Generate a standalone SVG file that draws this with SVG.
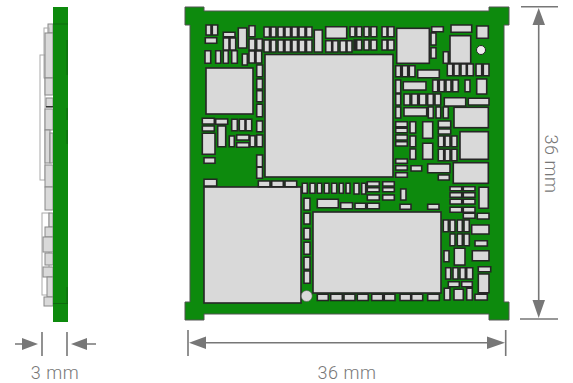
<svg xmlns="http://www.w3.org/2000/svg" width="573" height="383" viewBox="0 0 573 383">
<style>
.c{fill:#d9d9d9;stroke:#262626;stroke-width:1.6}
.s{fill:#d9d9d9;stroke:#888;stroke-width:1}
.o{fill:none;stroke:#aaa;stroke-width:1}
.d{stroke:#777;stroke-width:1.6;fill:none}
.a{fill:#777}
text{font-family:Roboto,"Liberation Sans",sans-serif;font-weight:300;font-size:18px;letter-spacing:.5px;fill:#777}
</style>
<defs>
<filter id="b" x="-2%" y="-2%" width="104%" height="104%"><feGaussianBlur stdDeviation="0.45"/></filter>
</defs>
<rect width="573" height="383" fill="#fff"/>
<g id="side-view" filter="url(#b)">
<rect class="s" x="48" y="24" width="5" height="9"/>
<rect class="o" x="44" y="28" width="5" height="50"/>
<rect class="o" x="40" y="55" width="5" height="125"/>
<rect class="s" x="45" y="33" width="8" height="45"/>
<rect class="s" x="45" y="78" width="8" height="17"/>
<rect class="s" x="46" y="98" width="7" height="9"/>
<rect x="46" y="106" width="7" height="1.4" fill="#333"/>
<rect class="s" x="45" y="109" width="8" height="21"/>
<rect class="s" x="45" y="130" width="5" height="33"/>
<rect class="s" x="50" y="133" width="3" height="30"/>
<rect class="s" x="45" y="165" width="8" height="22"/>
<rect class="s" x="45" y="187" width="8" height="23"/>
<rect class="o" x="42" y="213" width="7" height="82"/>
<rect class="s" x="49" y="213" width="4" height="14"/>
<rect class="s" x="45" y="227" width="8" height="10"/>
<rect class="s" x="43" y="237" width="10" height="15"/>
<rect class="s" x="45" y="253" width="8" height="12"/>
<rect class="s" x="43" y="267" width="10" height="10"/>
<rect class="s" x="47" y="277" width="6" height="20"/>
<rect class="s" x="44" y="297" width="9" height="9"/>
<rect x="53" y="7" width="15" height="315" fill="#0b8a0b"/>
<rect x="53" y="23.5" width="15" height="1" fill="#0a6b0a"/>
<rect x="53" y="303" width="15" height="1" fill="#0a6b0a"/>
<rect x="66.5" y="40" width="1.2" height="35" fill="#0a6b0a"/>
<rect x="66.5" y="108" width="1.2" height="12" fill="#0a6b0a"/>
<rect x="66.5" y="130" width="1.2" height="14" fill="#0a6b0a"/>
<rect x="66.5" y="287" width="1.2" height="16" fill="#0a6b0a"/>
</g>
<g id="board" filter="url(#b)">
<path d="M185 7H204V11H489V7H509V25H504V302H509V320H489V314H204V320H185V302H190V25H185Z" fill="#0b8a0b" stroke="#555" stroke-width="1"/>
<g id="chips">
<rect class="c" x="265" y="54.5" width="128" height="122.5"/>
<rect class="c" x="206" y="68" width="47" height="46"/>
<rect class="c" x="204" y="187" width="97" height="116"/>
<rect class="c" x="313" y="212" width="128" height="81"/>
<rect class="c" x="396.700" y="28.300" width="32.600" height="35"/>
<rect class="c" x="454" y="107.300" width="34.300" height="20.400"/>
<rect class="c" x="460" y="131.700" width="28.300" height="27.600"/>
<rect class="c" x="453.300" y="162.700" width="35" height="20.600"/>
<rect class="c" x="450" y="35.700" width="20.700" height="27.600"/>
</g>
<g id="parts">
<path class="c" d="M206 25h5v10h-5zM212.300 25h5.400v10h-5.400zM205.300 37.700h11.400v5.600h-11.400zM223.300 32.300h11.700v4.400h-11.700zM223.300 38h5.700v12h-5.700zM230 38h5.700v12H230zM238.300 28h8.400v20h-8.400zM249 25.700h6v11h-6zM249 39h6v11h-6zM256.700 39h5.600v11h-5.600z"/>
<path class="c" d="M264 27h5.500v10H264zM271 27h5v10h-5zM278 27h5.500v10H278zM285 27h5.500v10H285zM292 27h5.500v10H292zM299 27h6v10h-6zM306.500 27h5.500v10h-5.500zM264 40h5.500v12H264zM271 40h5v12h-5zM278 40h5.500v12H278zM285 40h5.500v12H285zM292 40h5.500v12H292zM299 40h6v12h-6zM306.500 40h5.500v12h-5.500z"/>
<path class="c" d="M314.300 30h8v22h-8zM325.700 26.700h21v11.600h-21zM325.700 40.700h6v11.300h-6zM332.700 40.700h5.300v11.300h-5.300zM340 40.700h6v11.300h-6zM347 40.700h5v11.300h-5z"/>
<path class="c" d="M350 26.700h5v10h-5zM356.700 26.700h5v10h-5zM364 26.700h5v10h-5zM371 26.700h5.700v10H371zM382 26.700h5v10h-5zM388 26.700h6v10h-6zM354 40h1.500v10H354zM356.700 40h5v10h-5zM364 40h5v10h-5zM371 40h5.700v10H371zM382 40h5v10h-5zM388 40h6v10h-6z"/>
<path class="c" d="M431.700 26.700h11.600v5h-11.600zM431 33h5v12h-5zM431 47.700h5v10.600h-5zM443.300 51.700h5v11.600h-5zM451 25h20.700v7.300H451zM476.700 26h11.600v12.300h-11.600z"/>
<path class="c" d="M395.700 65.700h5v11h-5zM402.300 65.700h5.400v11h-5.400zM409.300 65.700h5.700v11h-5.700zM417.700 70h21.600v7.700h-21.600zM447.300 64h5.400v11.700h-5.400zM454 64h5.300v11.700H454zM461 64h5.300v11.700H461zM467.300 64h6v11.700h-6zM476 64h5.700v11.700H476zM483.300 64h5.700v11.700h-5.700z"/>
<path class="c" d="M395.700 80h5v13h-5zM403.300 81.700H426V90h-22.700zM432.700 80h5v11.700h-5zM439.300 80h5v11.700h-5zM446 80h5v11.700h-5zM452.700 80h5.600v11.700h-5.600zM465 80h5v11.700h-5zM476.700 79h10v15h-10z"/>
<path class="c" d="M395.700 94h5v11h-5zM404 94h6v11h-6zM411.700 94h6v11h-6zM419.300 94h6.700v11h-6.700zM427.700 94h5.600v11h-5.600zM435 94h5.700v11H435zM444.300 97.700h21.400v8.300h-21.400zM468.300 98.300H489v6.700h-20.700z"/>
<path class="c" d="M395.700 107h5v11h-5zM404 107.700h22.700v8.300H404zM428.300 107h5v11h-5zM436 107h4.700v11H436zM443.300 107h5v11h-5z"/>
<path class="c" d="M395.700 121.700h11.600v5h-11.600zM395.700 128.300h11.600v4.400h-11.600zM395.700 135h11.600v5h-11.600zM395.700 141.700h11.600v4.300h-11.600zM410 121.700h5.700V133H410zM410 136h5.700v10.700H410zM410 149h5.700v10.300H410zM422.700 121.700h10v16.600h-10zM422.700 143.300h10v16h-10zM438.300 121h12.400v6.300h-12.400zM438.300 129h12.400v5h-12.400zM438.300 136h5.400v10.700h-5.400zM445 136h5v10.700h-5zM451.700 136h5.300v10.700h-5.300zM438.300 149.300h5.400v11.400h-5.400zM445 149.300h5v11.400h-5zM451.700 149.300h5.300v11.400h-5.300z"/>
<path class="c" d="M395.700 159h11.600v4.300h-11.600zM395.700 165.700h11.600v4.300h-11.600zM395.700 172.700h11.600v4.600h-11.600zM411 165.700h10.700v5.300H411zM427.700 164H450v8.700h-22.300zM438.300 175h11v5h-11zM400.700 189h5.300v11h-5.300zM400 204.300h11v5h-11zM427.700 204.300H439v5h-11.300z"/>
<path class="c" d="M450 186.700h11.700v4H450zM450 192.700h11.700v4.600H450zM450 199.300h11.700v4.700H450zM450 207.300h11.700v5H450zM463.300 186.700H475v4h-11.700zM463.300 192.700H475v4.600h-11.700zM463.300 199.300H475v4.700h-11.700zM463.300 207.300H475v5h-11.700zM479 187.300h9.300v21H479zM463.300 213.300H475v5h-11.700zM477.300 213.300H489v5.700h-11.700z"/>
<path class="c" d="M443.300 220h5v11.700h-5zM450 220h5v11.700h-5zM457.300 220h5v11.700h-5zM464 220h5.300v11.700H464zM471.700 225H489v9h-17.300zM450 234h5v11.700h-5zM457.300 234h5v11.700h-5zM464 234h5.300v11.700H464zM475 240.700h12.300v5.300H475zM444 250.700h5v11h-5zM454.300 248.300H465V265h-10.700zM472.300 250.700H489v10h-16.700z"/>
<path class="c" d="M478.300 266.700h12.400v5h-12.400zM445.700 267.700h5V279h-5zM453 267.700h5V279h-5zM460 267.700h5.300V279H460zM466.700 267.700h6V279h-6zM448.300 281.700h11v5h-11zM461.700 281.700h10.600v5h-10.600zM478.300 274H489v18.700h-10.700zM444.300 288.300h5.700V300h-5.700zM454 289.300h9.300V300H454zM466.700 288.300h5.600V300h-5.600zM475 294.300h12.300v5.700H475z"/>
<path class="c" d="M317.300 294.300h11v6.200h-11zM330.700 294.300h11.600v6.200h-11.600zM344 294.300h11v6.200h-11zM357.300 294.300h11v6.200h-11zM371.700 294.300h11v6.200h-11zM384.300 294.300H395v6.200h-10.700zM400 294.300h10.700v6.200H400zM411.700 294.300h11v6.200h-11zM427.700 294.300h11.600v6.200h-11.600z"/>
<path class="c" d="M302.300 183.300h5v10h-5zM310 183.300h5v10h-5zM317.300 183.300h4.400v10h-4.400zM324.300 183.300h4.700v10h-4.700zM331.700 183.300h5v10h-5zM339.300 183.300h4v10h-4zM346 183.300h4v10h-4zM354 183.300h5v10.700h-5zM361.700 183.300h4v10.700h-4zM367.300 181.700h12v4.300h-12zM367.300 187.700h12v4h-12zM382.700 181.700h11.600v4.300h-11.600zM382.700 187.700h11.600v4h-11.600zM367.300 195h12v5h-12zM382.700 195h11.600v5h-11.600zM355 203.300h10.700v5.400H355zM367.300 203.300h12v5.400h-12zM317.300 199.300h21v8.400h-21zM340.700 202.700h11.800v6h-11.800z"/>
<path class="c" d="M304 198.300h6V210h-6zM304 213.300h6V224h-6zM304 228.300h6v11h-6zM304 242.300h6v12h-6zM304 257.300h6v12h-6zM304 271h6v12.300h-6zM258.300 181h11.700v5.700h-11.700zM271.700 181h11.600v5.700h-11.600zM285 181h11.700v5.700H285zM204 179.300h12.700v6.700H204zM204 157.700h11v5.600h-11z"/>
<path class="c" d="M256.700 65h5.800v11.700h-5.800zM256.700 79h5.800v10h-5.800zM256.700 90.700h5.800v11h-5.800zM256.700 104.300h5.800v12.400h-5.800zM256.700 121h5.800v10.700h-5.800zM256.700 135h5.800v11.700h-5.800zM256.700 155h5.800v11.700h-5.800zM256.700 167.300h5.800v11h-5.800z"/>
<path class="c" d="M205 50.700h5.700v12.600H205zM215.700 50.700h5v12.600h-5zM223.300 50.700h5v12.600h-5zM231.700 50.700h5.600v12.600h-5.600zM242.300 54h5v11h-5zM249 51h5.700v12H249zM256 51h5.700v12H256z"/>
<path class="c" d="M202.300 118.300h12v5.700h-12zM202.300 126h12v5h-12zM215.700 119h12v5.300h-12zM231.700 119.300h5.600v11.400h-5.600zM239.300 119.300h5.700v11.400h-5.700zM246 119.300h5.700v11.400H246zM202.300 133.300H215v21h-12.700zM217.700 126h8v20.700h-8zM229.300 136h5v10.700h-5zM236.700 135H249v5h-12.300zM236.700 142.700H249v4.600h-12.300zM250 135.700h5v11h-5z"/>
<circle cx="481" cy="50" r="4.500" fill="#eee" stroke="#262626" stroke-width="1"/>
<circle cx="306.700" cy="296" r="5.500" fill="#d9d9d9" stroke="#555" stroke-width=".6"/>
</g>
</g>
<g id="connectors">
<path class="d" d="M42 332V356M67 332V356M15 344H24M96 344H87"/>
<path class="a" d="M38 344L22 338V350ZM71 344L87 338V350Z"/>
<path class="d" d="M188 330V356M505.700 330V356M200 342.700H494"/>
<path class="a" d="M189 342.700L206 336.500V349ZM505 342.700L487 336.500V349Z"/>
<path class="d" d="M521 6.700H558M520 319H558M538.700 20V306"/>
<path class="a" d="M538.700 8L532.500 25H545ZM538.700 318L532.500 300H545Z"/>
</g>
<g id="labels">
<text x="55" y="378.500" text-anchor="middle">3 mm</text>
<text x="347" y="378.500" text-anchor="middle">36 mm</text>
<text transform="translate(545 164) rotate(90)" text-anchor="middle">36 mm</text>
</g>
</svg>
